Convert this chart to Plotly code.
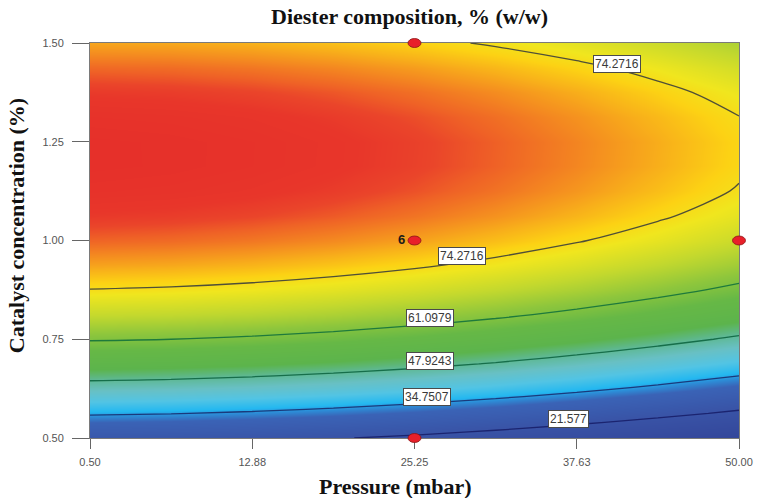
import numpy as np
import plotly.graph_objects as go

# Response surface grid: pressure (mbar) x catalyst concentration (%)
pressure = [0.5, 6.6875, 12.875, 19.0625, 25.25, 31.4375, 37.625, 43.8125, 50.0]
catalyst = [0.5, 0.5625, 0.625, 0.6875, 0.75, 0.8125, 0.875, 0.9375, 1.0,
            1.0625, 1.125, 1.1875, 1.25, 1.3125, 1.375, 1.4375, 1.5]

# Diester composition, % (w/w); one row per catalyst level
diester = [
    [24.85, 24.30, 23.35, 22.02, 20.30, 18.20, 15.70, 12.82, 9.55],
    [35.49, 34.96, 34.03, 32.72, 31.02, 28.94, 26.46, 23.60, 20.35],
    [45.15, 44.64, 43.73, 42.44, 40.76, 38.70, 36.24, 33.40, 30.17],
    [53.85, 53.36, 52.47, 51.20, 49.54, 47.50, 45.06, 42.24, 39.03],
    [61.57, 61.10, 60.24, 58.99, 57.35, 55.33, 52.91, 50.11, 46.92],
    [68.33, 67.88, 67.04, 65.81, 64.19, 62.19, 59.80, 57.02, 53.85],
    [74.12, 73.69, 72.87, 71.66, 70.06, 68.08, 65.71, 62.95, 59.80],
    [78.95, 78.54, 77.74, 76.55, 74.97, 73.01, 70.66, 67.92, 64.79],
    [82.80, 82.41, 81.63, 80.46, 78.90, 76.96, 74.63, 71.91, 68.80],
    [85.69, 85.32, 84.56, 83.41, 81.87, 79.95, 77.64, 74.94, 71.85],
    [87.60, 87.25, 86.51, 85.38, 83.86, 81.96, 79.67, 76.99, 73.92],
    [88.55, 88.22, 87.50, 86.39, 84.89, 83.01, 80.74, 78.08, 75.03],
    [88.53, 88.22, 87.52, 86.43, 84.95, 83.09, 80.85, 78.21, 75.18],
    [87.53, 87.24, 86.57, 85.50, 84.04, 82.20, 79.98, 77.36, 74.35],
    [85.57, 85.30, 84.65, 83.60, 82.16, 80.34, 78.14, 75.54, 72.55],
    [82.65, 82.40, 81.77, 80.74, 79.32, 77.52, 75.34, 72.76, 69.79],
    [78.75, 78.52, 77.91, 76.90, 75.50, 73.72, 71.56, 69.00, 66.05],
]

contour_levels = [21.577, 34.7507, 47.9243, 61.0979, 74.2716]
contour_text = ["21.577", "34.7507", "47.9243", "61.0979", "74.2716"]

# Design points (pressure, catalyst)
design_p = [25.25, 25.25, 50.0, 25.25]
design_c = [1.5, 1.0, 1.0, 0.5]
design_note = ["", "6", "", ""]

x_ticks = [0.5, 12.875, 25.25, 37.625, 50.0]
x_ticktext = ["0.50", "12.88", "25.25", "37.63", "50.00"]
y_ticks = [0.5, 0.75, 1.0, 1.25, 1.5]
y_ticktext = ["0.50", "0.75", "1.00", "1.25", "1.50"]

Z = np.array(diester)
zmin, zmax = Z.min(), Z.max()

# colour ramp blue -> cyan -> green -> yellow -> red, keyed on response value
ramp = [
    (9.55, "#33469a"), (22.0, "#3953a6"), (31.5, "#3a63b6"), (34.2, "#2c8ed8"),
    (36.0, "#24b8f0"), (40.0, "#52c4e4"), (44.5, "#68c0c4"), (48.5, "#5eb892"),
    (52.0, "#5cb44c"), (58.0, "#66b846"), (63.0, "#8ec63c"), (68.0, "#c2d82e"),
    (73.0, "#f0e61e"), (75.5, "#fcd214"), (78.0, "#f8b01a"), (80.5, "#f48a20"),
    (83.0, "#ef6226"), (84.5, "#ea452a"), (86.0, "#e8362a"), (88.55, "#e6302a"),
]
colorscale = [[(v - zmin) / (zmax - zmin), c] for v, c in ramp]
colorscale[0][0] = 0.0
colorscale[-1][0] = 1.0

line_colors = ["#1b2470", "#1a3a7c", "#166e4a", "#1e7a3c", "#4f4f38"]

fig = go.Figure()
fig.add_trace(go.Heatmap(
    x=pressure, y=catalyst, z=diester, zsmooth="best",
    colorscale=colorscale, zmin=zmin, zmax=zmax, showscale=False,
    hoverinfo="skip",
))
for lv, lc in zip(contour_levels, line_colors):
    fig.add_trace(go.Contour(
        x=pressure, y=catalyst, z=diester, autocontour=False,
        contours=dict(start=lv, end=lv, size=1, coloring="none"),
        line=dict(color=lc, width=1.3, smoothing=1),
        showscale=False, hoverinfo="skip",
    ))


def level_crossings(xq, level):
    """Catalyst values where the surface at pressure xq equals level."""
    col = np.array([np.interp(xq, pressure, row) for row in diester])
    out = []
    for i in range(len(catalyst) - 1):
        a, b = col[i] - level, col[i + 1] - level
        if a == 0 or a * b < 0:
            t = (level - col[i]) / (col[i + 1] - col[i])
            out.append(catalyst[i] + t * (catalyst[i + 1] - catalyst[i]))
    return out


# contour label placement: (level index, pressure, which crossing)
label_spots = [(0, 37.0, 0), (1, 26.2, 0), (2, 26.4, 0), (3, 26.4, 0),
               (4, 28.9, 0), (4, 40.7, -1)]
annotations = []
for idx, xp, which in label_spots:
    yc = level_crossings(xp, contour_levels[idx])[which]
    annotations.append(dict(
        x=xp, y=yc, xref="x", yref="y", text=contour_text[idx], showarrow=False,
        xanchor="center", yanchor="middle",
        yshift=6, bgcolor="white", bordercolor="#4a4a4a", borderwidth=1, borderpad=1,
        font=dict(family="Arial, Liberation Sans", size=12, color="#3a3a3a"),
    ))

xr = [pressure[0], pressure[-1]]
yr = [catalyst[0], catalyst[-1]]
shapes = []
for p, c, note in zip(design_p, design_c, design_note):
    fx = (p - xr[0]) / (xr[1] - xr[0])
    fy = (c - yr[0]) / (yr[1] - yr[0])
    shapes.append(dict(
        type="circle", xref="x domain", yref="y domain",
        xsizemode="pixel", ysizemode="pixel", xanchor=fx, yanchor=fy,
        x0=-6.5, x1=6.5, y0=-4.5, y1=4.5,
        fillcolor="#e8202a", line=dict(color="#8a1515", width=0.8), layer="above",
    ))
    if note:
        annotations.append(dict(
            x=fx, y=fy, xref="x domain", yref="y domain", text="<b>%s</b>" % note,
            showarrow=False, xanchor="center", yanchor="middle", xshift=-13, yshift=1,
            font=dict(family="Arial, Liberation Sans", size=13, color="#1a1a1a"),
        ))

serif = "Liberation Serif, Times New Roman, serif"
title_font = dict(family=serif, size=22, color="#111")
annotations += [
    dict(text="<b>Diester composition, % (w/w)</b>", xref="paper", yref="paper",
         x=0.493, y=1.066, xanchor="center", yanchor="middle", showarrow=False,
         font=title_font),
    dict(text="<b>Pressure (mbar)</b>", xref="paper", yref="paper",
         x=0.471, y=-0.124, xanchor="center", yanchor="middle", showarrow=False,
         font=title_font),
    dict(text="<b>Catalyst concentration (%)</b>", xref="paper", yref="paper",
         x=-0.112, y=0.537, xanchor="center", yanchor="middle", textangle=-90,
         showarrow=False, font=title_font),
]

axis_common = dict(
    showgrid=False, zeroline=False, showline=True, linecolor="#7a7a7a", linewidth=1,
    mirror=True, ticks="outside", tickcolor="#666666", tickwidth=1, automargin=False,
    tickfont=dict(family="Arial, Liberation Sans", size=11, color="#555555"),
)
fig.update_layout(
    width=757, height=498,
    margin=dict(l=90, r=18, t=43, b=60),
    paper_bgcolor="white", plot_bgcolor="white",
    xaxis=dict(range=xr, tickvals=x_ticks, ticktext=x_ticktext, ticklen=10,
               ticklabelstandoff=4, **axis_common),
    yaxis=dict(range=yr, tickvals=y_ticks, ticktext=y_ticktext, ticklen=17,
               ticklabelstandoff=6, **axis_common),
    annotations=annotations, shapes=shapes, showlegend=False,
)
fig.write_html("out.html")
